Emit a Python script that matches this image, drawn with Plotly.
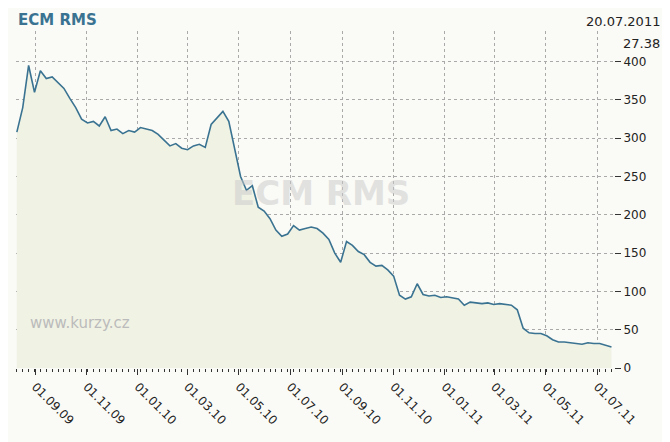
import plotly.graph_objects as go
import pandas as pd

# weekly closing prices, ECM RMS
dates = list(pd.date_range("2009-08-10", periods=102, freq="7D"))
prices = [
    308, 340, 395, 360,
    388, 378, 380, 372,
    365, 352, 340, 325,
    320, 322, 316, 328, 310,
    312, 306, 310, 308,
    314, 312, 310, 305,
    298, 290, 293, 287,
    285, 290, 292, 288, 318,
    326, 335, 322, 285,
    250, 232, 238, 210, 205,
    195, 180, 172, 175,
    186, 180, 182, 184,
    182, 176, 168, 150, 138,
    165, 160, 152, 148,
    138, 133, 134, 128,
    120, 95, 90, 93, 110,
    96, 94, 95, 92,
    93, 91, 90, 82, 86,
    85, 84, 85, 83,
    84, 83, 82, 76,
    52, 46, 45, 45,
    42, 37, 34, 34, 33,
    32, 31, 33, 32,
    32, 30, 27.38,
]
tick_dates = ["2009-09-01", "2009-11-01", "2010-01-01", "2010-03-01", "2010-05-01", "2010-07-01",
              "2010-09-01", "2010-11-01", "2011-01-01", "2011-03-01", "2011-05-01", "2011-07-01"]
tick_labels = ["01.09.09", "01.11.09", "01.01.10", "01.03.10", "01.05.10", "01.07.10",
               "01.09.10", "01.11.10", "01.01.11", "01.03.11", "01.05.11", "01.07.11"]

fig = go.Figure()
fig.add_trace(go.Scatter(
    x=dates, y=prices, mode="lines", line=dict(color="#3a7391", width=1.6),
    fill="tozeroy", fillcolor="#f0f2e4", showlegend=False,
))

grid = dict(showgrid=True, gridcolor="#aaaaaa", griddash="dot", gridwidth=1)
fig.update_layout(
    width=670, height=442,
    margin=dict(l=8, r=64, t=23, b=82),
    paper_bgcolor="#fafaf6", plot_bgcolor="#fafaf6",
    font=dict(family="DejaVu Sans", size=12, color="#222"),
    xaxis=dict(range=["2009-08-09", "2011-07-21"], tickvals=tick_dates, ticktext=tick_labels,
               tickangle=45, ticks="outside", ticklen=6, tickcolor="#333",
               minor=dict(ticks="outside", ticklen=3, tickcolor="#333", dtick=7 * 86400000,
                          tick0="2009-08-10"),
               showline=False, zeroline=False, **grid),
    yaxis=dict(range=[0, 440], side="right", tickvals=list(range(0, 401, 50)),
               ticks="outside", ticklen=6, tickcolor="#333", zeroline=False, **grid),
    annotations=[
        dict(text="<b>ECM RMS</b>", xref="paper", yref="paper", x=0.0, y=1.0, xanchor="left",
             yanchor="bottom", showarrow=False, font=dict(size=15, color="#3a7391")),
        dict(text="20.07.2011", xref="paper", yref="paper", x=1.0, xshift=48, y=1.0, xanchor="right",
             yanchor="bottom", showarrow=False, font=dict(size=13, color="#222")),
        dict(text="27.38", xref="paper", yref="paper", x=1.0, xshift=48, y=0.99, xanchor="right",
             yanchor="top", showarrow=False, font=dict(size=13, color="#222")),
        dict(text="<b>ECM RMS</b>", xref="paper", yref="paper", x=0.51, y=0.52, showarrow=False,
             font=dict(size=34, color="rgba(200,200,200,0.5)")),
        dict(text="www.kurzy.cz", xref="paper", yref="paper", x=0.02, y=0.1, xanchor="left",
             showarrow=False, font=dict(size=15, color="#bbbbbb")),
    ],
)
fig.write_html("out.html")
